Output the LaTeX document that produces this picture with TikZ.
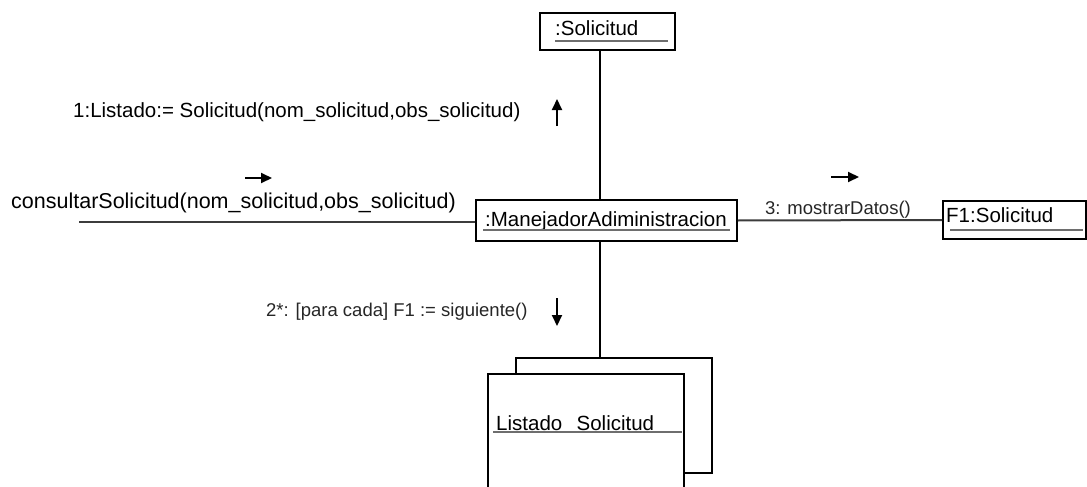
\documentclass[tikz,border=0pt]{standalone}
\usepackage{fontspec}
\setmainfont{Liberation Sans}
\usepackage{tikz}
\usetikzlibrary{arrows.meta, positioning, calc}
\definecolor{linecolor}{RGB}{60,60,60}
\definecolor{ulcolor}{RGB}{110,110,110}

\begin{document}
\begin{tikzpicture}[
    x=1pt, y=-1pt,
    objbox/.style={rectangle, draw, line width=1.6pt, inner sep=0pt, fill=white},
    objtxt/.style={anchor=west, inner sep=0pt, font=\fontsize{20.5}{24}\selectfont},
    msgtxt/.style={anchor=west, inner sep=0pt, text=black!85, font=\fontsize{18.5}{22}\selectfont},
    uline/.style={draw=ulcolor, line width=1.8pt},
    link/.style={draw=black, line width=1.4pt},
    wire/.style={draw=linecolor, line width=2pt},
    msgarrow/.style={-{Triangle[length=11pt, width=10pt]}, line width=2pt}
]
\useasboundingbox (0,0) rectangle (1087,487);
\clip (0,0) rectangle (1087,487);

\node[objbox, minimum width=135, minimum height=37] (sol) at (607.5,31.5) {};
\node[objtxt] (soltxt) at (555,28) {:Solicitud};
\draw[uline] (555,41) -- (668,41);

\node[objbox, minimum width=261, minimum height=41] (man) at (606.5,220.5) {};
\node[objtxt] (mantxt) at (485,221) {:ManejadorAdiministracion};
\draw[uline] (483,230) -- (730,230);

\node[objbox, minimum width=143, minimum height=38] (f1) at (1014.5,220) {};
\node[objtxt] (f1txt) at (946,215) {F1:Solicitud};
\draw[uline] (950,230) -- (1083,230);

\node[objbox, minimum width=196, minimum height=115] (back) at (614,415.5) {};
\node[objbox, minimum width=196, minimum height=126] (front) at (586,437) {};
\node[objtxt] (listtxt) at (496,423) {Listado\hspace{0.7em}Solicitud};
\draw[uline] (493,432) -- (682,432);

\coordinate (vx) at (600,0);
\coordinate (lft) at (79,222);
\draw[link] (sol.south -| vx) -- (man.north -| vx);
\draw[link] (man.south -| vx) -- (back.north -| vx);
\draw[wire] (lft) -- (lft -| man.west);
\draw[wire] (man.east) -- (f1.west);

\node[objtxt] (msg1) at (73,112) {1:Listado:= Solicitud(nom\_solicitud,obs\_solicitud)};
\node[objtxt, font=\fontsize{21.5}{24}\selectfont] (msg0) at (11,203) {consultarSolicitud(nom\_solicitud,obs\_solicitud)};
\node[msgtxt] (msg3) at (765,210) {3: mostrarDatos()};
\node[msgtxt] (msg2) at (266,312) {2*: [para cada] F1 := siguiente()};

\coordinate (a1s) at (557,126);
\coordinate (a1e) at (557,99);
\coordinate (a0s) at (245,178);
\coordinate (a0e) at (272,178);
\coordinate (a3s) at (831,177);
\coordinate (a3e) at (859,177);
\coordinate (a2s) at (557,298);
\coordinate (a2e) at (557,326);
\draw[msgarrow] (a1s) -- (a1e);
\draw[msgarrow] (a0s) -- (a0e);
\draw[msgarrow] (a3s) -- (a3e);
\draw[msgarrow] (a2s) -- (a2e);
\end{tikzpicture}
\end{document}
